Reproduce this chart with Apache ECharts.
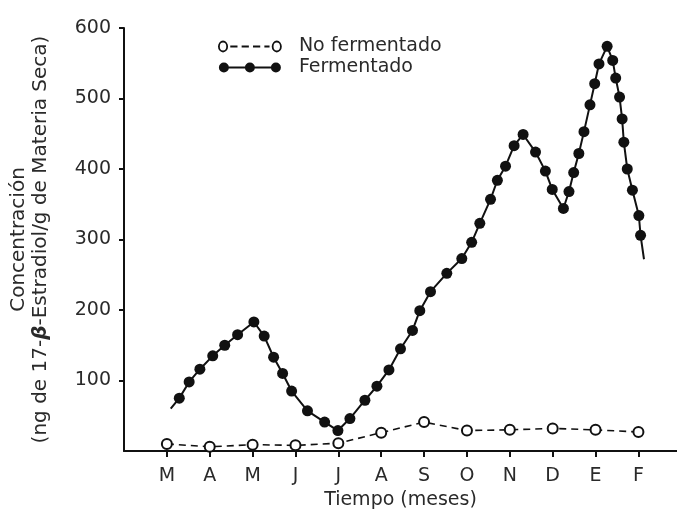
<!DOCTYPE html>
<html>
<head>
<meta charset="utf-8">
<script src="https://cdn.jsdelivr.net/npm/echarts@6/dist/echarts.min.js"></script>
<style>
html, body { margin: 0; padding: 0; background: #fff; }
#main { width: 677px; height: 515px; }
</style>
</head>
<body>
<div id="main"></div>
<script>
// meses, de marzo a febrero
var meses = ['M', 'A', 'M', 'J', 'J', 'A', 'S', 'O', 'N', 'D', 'E', 'F'];
var mesTicks = [1, 2, 3, 4, 5, 6, 7, 8, 9, 10, 11, 12];
var yTicks = [100, 200, 300, 400, 500, 600];

// No fermentado: un valor por mes
var noFermX = [1, 2, 3, 4, 5, 6, 7, 8, 9, 10, 11, 12];
var noFermY = [10, 6, 9, 8, 11, 26, 41, 29, 30, 32, 30, 27];

// Fermentado: muestreo mas denso (x en meses)
// el primero y el ultimo son solo los extremos de la linea, sin punto
var fermX = [1.09, 1.29, 1.52, 1.77, 2.07, 2.35, 2.65, 3.03, 3.27, 3.49, 3.70, 3.91, 4.28, 4.68, 4.99,
  5.27, 5.62, 5.90, 6.18, 6.45, 6.73, 6.90, 7.15, 7.53, 7.88, 8.11, 8.30, 8.55, 8.71, 8.90,
  9.10, 9.31, 9.60, 9.83, 9.99, 10.25, 10.38, 10.49, 10.61, 10.73, 10.87, 10.98, 11.08, 11.27,
  11.40, 11.47, 11.56, 11.62, 11.66, 11.74, 11.86, 12.01, 12.05, 12.13];
var fermY = [60, 75, 98, 116, 135, 150, 165, 183, 163, 133, 110, 85, 57, 41, 29,
  46, 72, 92, 115, 145, 171, 199, 226, 252, 273, 296, 323, 357, 384, 404,
  433, 449, 424, 397, 371, 344, 368, 395, 422, 453, 491, 521, 549, 574,
  554, 529, 502, 471, 438, 400, 370, 334, 306, 272];

var fuente = 'DejaVu Sans';
var gris = '#2a2a2a';

var noFermData = noFermX.map(function (x, i) { return [x, noFermY[i]]; });
var fermData = fermX.map(function (x, i) {
  var d = { value: [x, fermY[i]] };
  if (i === 0 || i === fermX.length - 1) d.symbol = 'none';
  return d;
});

var chart = echarts.init(document.getElementById('main'));
var option = {
  animation: false,
  backgroundColor: '#fff',
  grid: { left: 123, right: 0, top: 28, bottom: 61 },
  legend: {
    orient: 'vertical',
    left: 213,
    top: 32,
    itemWidth: 62,
    itemHeight: 10,
    itemGap: 2,
    selectedMode: false,
    symbolKeepAspect: false,
    textStyle: { fontFamily: fuente, fontSize: 19, color: gris, padding: [0, 0, 2, 13] },
    data: [
      {
        name: 'No fermentado',
        icon: 'path://M1,5a4,4 0 1,1 8,0a4,4 0 1,1 -8,0M53,5a4,4 0 1,1 8,0a4,4 0 1,1 -8,0M12,5h7M23,5h7M34,5h7M45,5h5',
        itemStyle: { color: '#fff', borderColor: '#111', borderWidth: 1.8 }
      },
      {
        name: 'Fermentado',
        icon: 'path://M0,5a5,5 0 1,1 10,0a5,5 0 1,1 -10,0M26,5a5,5 0 1,1 10,0a5,5 0 1,1 -10,0M52,5a5,5 0 1,1 10,0a5,5 0 1,1 -10,0M9,4h18v2h-18ZM35,4h18v2h-18Z',
        itemStyle: { color: '#111', borderWidth: 0 }
      }
    ]
  },
  xAxis: {
    type: 'value',
    min: 0,
    max: 12.9,
    interval: 1,
    name: 'Tiempo (meses)',
    nameLocation: 'middle',
    nameGap: 40,
    nameTextStyle: { fontFamily: fuente, fontSize: 19, color: gris },
    axisLine: { lineStyle: { color: '#111', width: 2 } },
    axisTick: { customValues: mesTicks, length: 6, lineStyle: { color: '#111', width: 2 } },
    axisLabel: {
      customValues: mesTicks,
      formatter: function (v) { return meses[v - 1]; },
      margin: 16,
      fontFamily: fuente, fontSize: 19, color: gris
    },
    splitLine: { show: false }
  },
  yAxis: {
    type: 'value',
    min: 0,
    max: 600,
    interval: 100,
    name: 'Concentración\n(ng de 17-{b|β}-Estradiol/g de Materia Seca)',
    nameLocation: 'middle',
    nameRotate: 90,
    nameGap: 72,
    nameTextStyle: {
      fontFamily: fuente, fontSize: 20, color: gris, lineHeight: 22,
      rich: { b: { fontFamily: fuente, fontSize: 20, color: gris, fontWeight: 'bold', fontStyle: 'italic' } }
    },
    axisLine: { show: true, lineStyle: { color: '#111', width: 2 } },
    axisTick: { show: true, customValues: yTicks, length: 5, lineStyle: { color: '#111', width: 2 } },
    axisLabel: { customValues: yTicks, margin: 13, fontFamily: fuente, fontSize: 19, color: gris },
    splitLine: { show: false }
  },
  series: [
    {
      name: 'No fermentado',
      type: 'line',
      data: noFermData,
      symbol: 'circle',
      symbolSize: 10,
      itemStyle: { color: '#fff', borderColor: '#111', borderWidth: 2 },
      lineStyle: { color: '#111', width: 1.6, type: [7, 5] },
      z: 2
    },
    {
      name: 'Fermentado',
      type: 'line',
      data: fermData,
      symbol: 'circle',
      symbolSize: 11,
      itemStyle: { color: '#111' },
      lineStyle: { color: '#111', width: 2 },
      z: 3
    }
  ]
};
chart.setOption(option);
</script>
</body>
</html>
